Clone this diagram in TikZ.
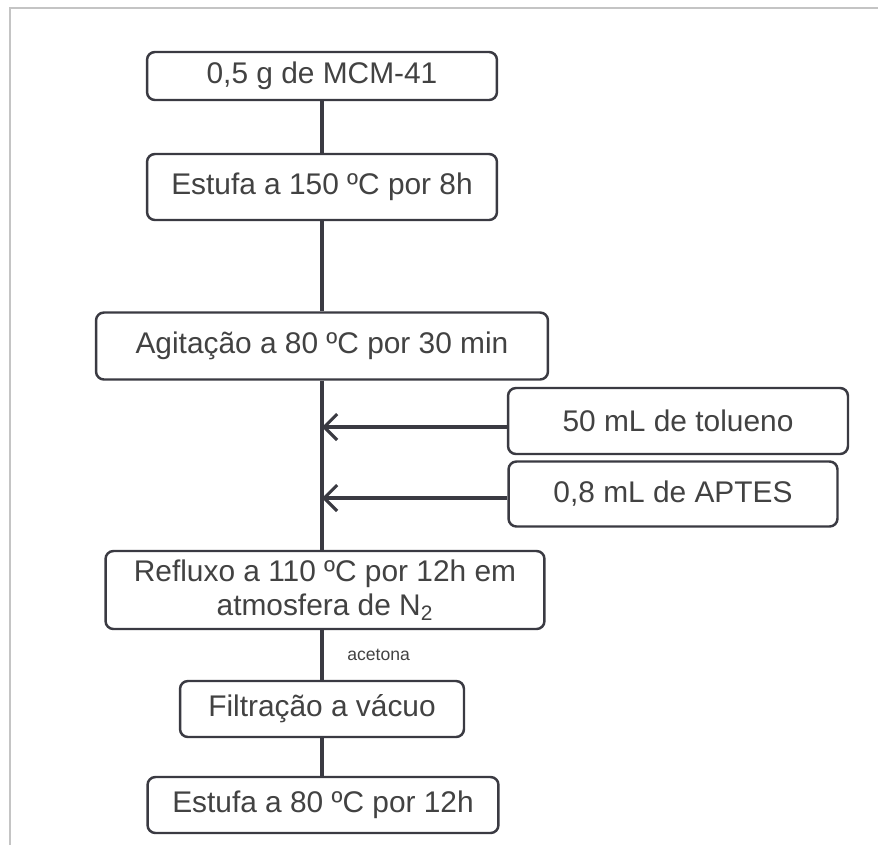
\documentclass[tikz,border=0pt]{standalone}
\usepackage{fontspec}
\setmainfont{Liberation Sans}
\usepackage{xcolor}
\usetikzlibrary{arrows.meta,positioning}
\definecolor{edge}{HTML}{3A3A42}
\definecolor{ink}{HTML}{424242}
\definecolor{frame}{HTML}{C4C4C4}

\begin{document}
\begin{tikzpicture}[
  x=0.02cm,y=-0.02cm,
  stepbox/.style={draw=edge,line width=1.4pt,rounded corners=4.5pt,fill=white,text=ink,align=center,
    inner sep=0pt,font=\fontsize{17}{19.5}\selectfont},
  trunk/.style={draw=edge,line width=2.2pt},
  feed/.style={trunk,-{Straight Barb[length=2.6mm,width=5.2mm,line width=1.8pt]}},
  tag/.style={font=\fontsize{10}{12}\selectfont,text=ink}
]
\useasboundingbox (0,0) rectangle (878,845);
\draw[frame,line width=0.8pt] (10,845) -- (10,8) -- (878,8);

\node[stepbox,minimum width=7cm,minimum height=0.96cm] (mcm) at (322,76) {0,5 g de MCM-41};
\node[stepbox,minimum width=7cm,minimum height=1.32cm] (dry) at (322,187) {Estufa a 150 ºC por 8h};
\node[stepbox,minimum width=9.04cm,minimum height=1.34cm] (stir) at (322,346) {Agitação a 80 ºC por 30 min};
\node[stepbox,minimum width=6.8cm,minimum height=1.32cm] (tol) at (678,421) {50 mL de tolueno};
\node[stepbox,minimum width=6.58cm,minimum height=1.3cm] (aptes) at (673,494) {0,8 mL de APTES};
\node[stepbox,minimum width=8.78cm,minimum height=1.56cm] (reflux) at (325,590) {Refluxo a 110 ºC por 12h em\\atmosfera de N\textsubscript{2}};
\node[stepbox,minimum width=5.68cm,minimum height=1.12cm] (filt) at (322,709) {Filtração a vácuo};
\node[stepbox,minimum width=7.02cm,minimum height=1.12cm] (oven) at (323,805) {Estufa a 80 ºC por 12h};

\draw[trunk] (mcm) -- (dry);
\draw[trunk] (dry) -- (stir);
\draw[trunk] (stir.south) -- (stir.south |- reflux.north);
\draw[trunk] (filt.north |- reflux.south) -- node[tag,right=10pt,pos=0.5]{acetona} (filt);
\draw[trunk] (filt.south) -- (filt.south |- oven.north);

\draw[feed] ([yshift=-6*0.02cm]tol.west) -- ([yshift=-6*0.02cm]tol.west -| stir.south);
\draw[feed] ([yshift=-4*0.02cm]aptes.west) -- ([yshift=-4*0.02cm]aptes.west -| stir.south);
\end{tikzpicture}
\end{document}
